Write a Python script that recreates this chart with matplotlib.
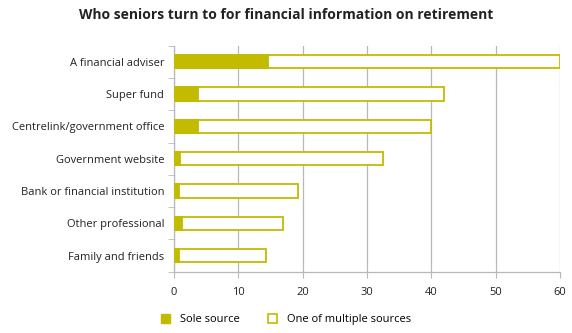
import numpy as np
import matplotlib.pyplot as plt
from matplotlib.patches import Patch

categories = [
    "A financial adviser",
    "Super fund",
    "Centrelink/government office",
    "Government website",
    "Bank or financial institution",
    "Other professional",
    "Family and friends",
]
sole_source = [14.6, 3.7, 3.7, 1.0, 0.7, 1.2, 0.7]
multiple_sources = [60.0, 42.0, 40.0, 32.5, 19.2, 17.0, 14.3]
x_ticks = [0, 10, 20, 30, 40, 50, 60]

OLIVE = "#c2bb00"
GRID = "#b8b8b8"

plt.rcParams["font.family"] = ["Open Sans", "DejaVu Sans"]

fig = plt.figure(figsize=(5.72, 3.33), dpi=100)
ax = fig.add_axes([0.3042, 0.184, 0.675, 0.679])

y = np.arange(len(categories))[::-1]
ax.barh(y, multiple_sources, height=0.41, color="white", edgecolor=OLIVE,
        linewidth=1.3, zorder=3)
ax.barh(y, sole_source, height=0.41, color=OLIVE, edgecolor=OLIVE,
        linewidth=1.3, zorder=4)

ax.set_xlim(0, 60)
ax.set_ylim(-0.5, len(categories) - 0.5)
ax.set_xticks(x_ticks)
ax.set_xticklabels([str(t) for t in x_ticks], fontsize=8, color="#222222")
ax.set_yticks(y)
ax.set_yticklabels(categories, fontsize=8, color="#222222")
ax.tick_params(axis="y", which="major", length=0, pad=7)
ax.set_yticks(np.arange(-0.5, len(categories), 1.0), minor=True)
ax.tick_params(axis="y", which="minor", length=4, color=GRID, direction="out")
ax.tick_params(axis="x", which="major", length=4, color=GRID, pad=7)

ax.grid(True, axis="x", color=GRID, linewidth=0.9, zorder=0)
for side in ["top", "right"]:
    ax.spines[side].set_visible(False)
for side in ["left", "bottom"]:
    ax.spines[side].set_color(GRID)
    ax.spines[side].set_linewidth(0.9)

fig.text(0.5, 0.955, "Who seniors turn to for financial information on retirement",
         ha="center", va="center", fontsize=10, fontweight="bold", color="#222222")

handles = [
    Patch(facecolor=OLIVE, edgecolor=OLIVE, label="Sole source"),
    Patch(facecolor="white", edgecolor=OLIVE, linewidth=1.2, label="One of multiple sources"),
]
fig.legend(handles=handles, loc="center", bbox_to_anchor=(0.5, 0.04), ncol=2,
           frameon=False, fontsize=8, handlelength=0.8, handleheight=0.8,
           columnspacing=2.5, handletextpad=0.9)

plt.savefig("out.png", dpi=100)
